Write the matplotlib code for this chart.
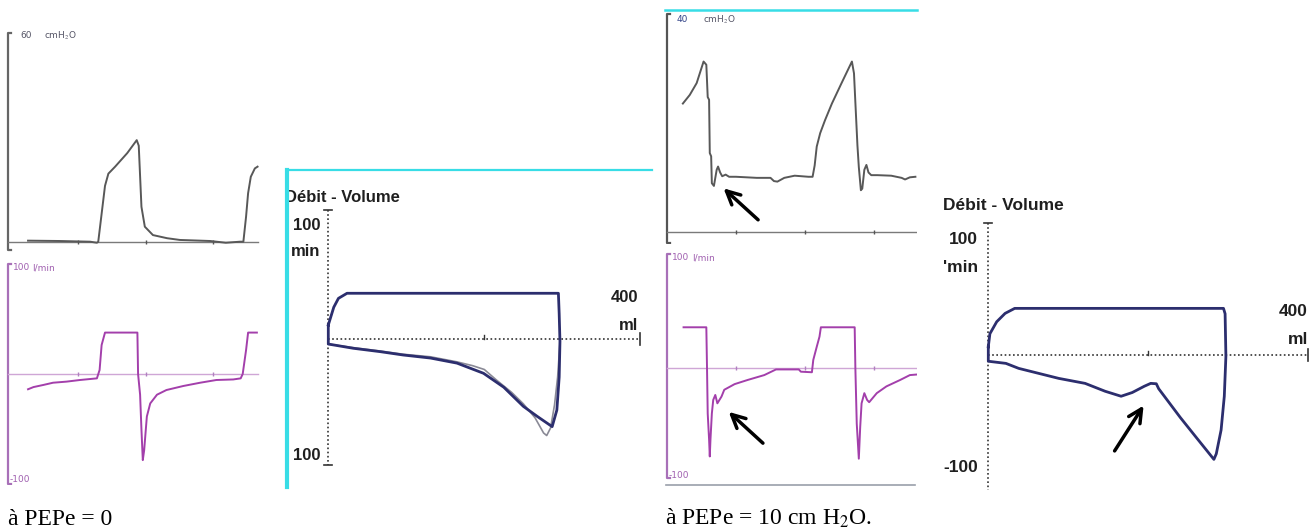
import numpy as np
import matplotlib
matplotlib.use('Agg')
import matplotlib.pyplot as plt

plt.rcParams['mathtext.fontset'] = 'stix'

W, H = 1315, 532

# --- PEPe = 0 : pression (cmH2O) en fonction du temps (s)
t_paw0 = [0.26, 0.73, 1.18, 1.28, 1.30, 1.35, 1.40, 1.45, 1.55, 1.73, 1.87, 1.90, 1.94,
          1.99, 2.11, 2.32, 2.51, 2.96, 3.19, 3.40, 3.45, 3.49, 3.52, 3.56, 3.62, 3.66]
paw0 = [0.3, 0.2, 0.0, -0.3, 0.0, 8.0, 16.0, 19.5, 21.5, 25.4, 29.1, 27.5, 10.0,
        4.3, 1.9, 1.0, 0.5, 0.2, -0.3, 0.0, 0.0, 7.2, 13.9, 18.6, 21.0, 21.5]

# --- PEPe = 0 : débit (l/min)
t_flow0 = [0.26, 0.34, 0.49, 0.63, 0.83, 1.03, 1.28, 1.32, 1.35, 1.40, 1.88, 1.89, 1.92,
           1.94, 1.96, 1.98, 2.02, 2.07, 2.17, 2.31, 2.56, 2.81, 3.05, 3.30, 3.41, 3.44,
           3.49, 3.52, 3.65]
flow0 = [-14, -12, -10, -8, -7, -5.5, -4, 3.7, 26.6, 38, 38, 0, -19,
         -51, -79, -70, -39, -27, -19, -14.7, -11, -8, -5.5, -5, -4, 0,
         22, 38, 38]

# --- PEPe = 0 : boucle débit-volume (ml, l/min)
vol_loop0 = [0, 7, 13, 24, 100, 200, 295, 296, 297, 296, 293, 287, 268, 250, 225, 199,
             165, 131, 96, 67, 32, 7, 0, 0]
flow_loop0 = [11, 25, 32, 36, 36, 36, 36, 20, -2, -30, -56, -69, -61, -53, -38, -27,
              -19, -15, -12.6, -10, -7.3, -4.7, -4, 11]
vol_loop0_b = [297, 294, 290, 285, 280, 276, 265, 250, 235, 215, 200, 185, 165, 131,
               96, 67, 32, 0]
flow_loop0_b = [-3, -30, -52, -70, -76, -74, -62, -51, -42, -32, -24, -21, -18, -14,
                -12, -9.5, -6.8, -4]

# --- PEPe = 10 : pression
t_paw10 = [0.23, 0.33, 0.43, 0.53, 0.57, 0.59, 0.61, 0.62, 0.64, 0.65, 0.68, 0.72, 0.74,
           0.77, 0.80, 0.85, 0.90, 1.00, 1.30, 1.50, 1.55, 1.60, 1.70, 1.85, 2.05, 2.11,
           2.14, 2.17, 2.22, 2.29, 2.39, 2.53, 2.68, 2.71, 2.73, 2.76, 2.78, 2.81, 2.83,
           2.86, 2.89, 2.92, 2.96, 3.05, 3.25, 3.40, 3.45, 3.52, 3.60]
paw10 = [23.8, 25.4, 27.6, 31.6, 31.0, 25.0, 24.5, 14.6, 14.0, 9.0, 8.5, 11.5, 12.1,
         11.0, 10.3, 10.6, 10.2, 10.2, 10.0, 10.0, 9.4, 9.3, 10.0, 10.4, 10.2, 10.2,
         12.3, 15.8, 18.3, 20.7, 23.8, 27.6, 31.6, 29.4, 24.0, 16.0, 12.0, 7.7, 8.0,
         11.5, 12.4, 11.0, 10.5, 10.5, 10.4, 10.0, 9.7, 10.1, 10.2]

# --- PEPe = 10 : débit
t_flow10 = [0.24, 0.57, 0.58, 0.59, 0.61, 0.62, 0.63, 0.65, 0.67, 0.70, 0.73, 0.79, 0.83,
            0.98, 1.17, 1.41, 1.58, 1.91, 1.94, 2.10, 2.12, 2.17, 2.21, 2.23, 2.72, 2.73,
            2.75, 2.78, 2.80, 2.82, 2.86, 2.90, 2.93, 3.04, 3.18, 3.38, 3.52, 3.62]
flow10 = [36.3, 36.3, 0, -40, -63, -78, -63, -40, -28, -23.6, -31, -25, -19,
          -14, -10.3, -6, -1, -1, -3, -3.5, 7.4, 19, 28, 36.3, 36.3, 0,
          -49, -80, -52, -31, -22, -28, -30, -22, -16, -10.3, -6, -5.5]

# --- PEPe = 10 : boucle débit-volume
vol_loop10 = [0, 2, 10.5, 21, 33, 294, 296, 297, 295, 291, 285, 282, 260, 240, 213, 210,
              203, 195, 180, 166, 146, 121, 88, 38, 22, 0, 0]
flow_loop10 = [6.6, 17, 26.6, 33.3, 37.3, 37.3, 33, -1, -33, -60, -79, -83.5, -66, -50,
               -27, -23, -22.7, -25, -30, -33, -29, -22.7, -18.7, -10.7, -6.7, -5, 6.6]

time_ticks = [1, 2, 3]

caption0 = 'à PEPe = 0'
caption10 = 'à PEPe = 10 cm H$_2$O.'

col_paw = '#585858'
col_flow = '#a33fab'
col_flow_lt = '#cfa6d6'
col_loop = '#2c2e6e'
col_cyan = '#38dde6'
col_txt = '#1f1f1f'


def add_panel(fig, ox, oy, sx, sy, xlim, ylim):
    # ox, oy: pixel position of data origin; sx, sy: pixels per data unit
    x0 = ox + sx * xlim[0]
    x1 = ox + sx * xlim[1]
    y_top = oy - sy * ylim[1]
    y_bot = oy - sy * ylim[0]
    ax = fig.add_axes([x0 / W, 1 - y_bot / H, (x1 - x0) / W, (y_bot - y_top) / H])
    ax.set_xlim(xlim)
    ax.set_ylim(ylim)
    ax.set_xticks([])
    ax.set_yticks([])
    for s in ax.spines.values():
        s.set_visible(False)
    ax.patch.set_alpha(0)
    return ax


def px_text(fig, x, y, s, **kw):
    return fig.text(x / W, 1 - y / H, s, **kw)


def bracket(ax, x, top, bottom, dx, color):
    ax.plot([x + dx, x, x, x + dx], [top, top, bottom, bottom], color=color, lw=1.6,
            solid_joinstyle='round')


def loop_label(fig, x, y, s, ha='right', size=12):
    px_text(fig, x, y, s, fontsize=size, family='Liberation Sans', fontweight='bold',
            color=col_txt, va='center', ha=ha)


fig = plt.figure(figsize=(W / 100, H / 100), dpi=100)

# ---------------- PEPe = 0, pression
ax = add_panel(fig, 10.5, 241.7, 67.5, 104.7 / 30, (-0.06, 3.75), (-3, 60.5))
bracket(ax, -0.037, 59.8, -2.4, 0.04, '#666666')
ax.plot([-0.037, 3.66], [0, 0], color='#7a7a7a', lw=1)
ax.plot(time_ticks, [0] * 3, '|', color='#555555', ms=3)
ax.plot(t_paw0, paw0, color=col_paw, lw=1.4)
px_text(fig, 20, 36, '60', fontsize=6.5, color='#555566', va='center')
px_text(fig, 44, 36, 'cmH$_2$O', fontsize=6.5, color='#555566', va='center')

# ---------------- PEPe = 0, débit
ax = add_panel(fig, 10.5, 374, 67.5, 1.09, (-0.06, 3.75), (-102, 103))
bracket(ax, -0.037, 101, -101, 0.04, '#a870b8')
ax.plot([-0.037, 3.66], [0, 0], color=col_flow_lt, lw=1)
ax.plot(time_ticks, [0] * 3, '|', color='#b080c0', ms=3)
ax.plot(t_flow0, flow0, color=col_flow, lw=1.4)
px_text(fig, 13, 268, '100', fontsize=6.5, color='#a060b0', va='center')
px_text(fig, 32, 268, 'l/min', fontsize=6.5, color='#a060b0', va='center')
px_text(fig, 10, 479, '-100', fontsize=6.5, color='#a060b0', va='center')

# ---------------- PEPe = 0, boucle
ax = add_panel(fig, 328.3, 339, 0.78, 1.27, (-53, 415), (-116.5, 133))
ax.spines['left'].set_visible(True)
ax.spines['left'].set_color(col_cyan)
ax.spines['left'].set_linewidth(3)
ax.spines['top'].set_visible(True)
ax.spines['top'].set_color(col_cyan)
ax.spines['top'].set_linewidth(1.6)
ax.plot([0, 0], [101.6, -99], color='#333333', lw=1.2, ls=(0, (1, 1.5)))
ax.plot([-5, 5], [101.6, 101.6], color='#333333', lw=1.2)
ax.plot([-5, 5], [-99, -99], color='#333333', lw=1.2)
ax.plot([0, 400], [0, 0], color='#333333', lw=1.2, ls=(0, (1, 1.5)))
ax.plot([400, 400], [-5, 5], color='#333333', lw=1.2)
ax.plot([200, 200], [0, 3], color='#333333', lw=1)
ax.plot(vol_loop0_b, flow_loop0_b, color='#8a8a96', lw=1.2)
ax.plot(vol_loop0, flow_loop0, color=col_loop, lw=2)
ax.text(285 / W, 1 - 197 / H, 'Débit - Volume', transform=fig.transFigure, fontsize=12,
        family='Liberation Sans', fontweight='bold', color=col_txt, va='center', zorder=2)
loop_label(fig, 320, 226, '100')
loop_label(fig, 320, 252, 'min')
loop_label(fig, 320, 456, '100')
loop_label(fig, 638, 298, '400')
loop_label(fig, 638, 325, 'ml')

# ---------------- PEPe = 10, pression
ax = add_panel(fig, 667, 231.7, 69, 107.7 / 20, (-0.03, 3.63), (-2.2, 41.2))
ax.spines['top'].set_visible(True)
ax.spines['top'].set_color(col_cyan)
ax.spines['top'].set_linewidth(1.8)
bracket(ax, 0, 40.4, -2.1, 0.04, '#555555')
ax.plot([0, 3.63], [0, 0], color='#7a7a7a', lw=1)
ax.plot(time_ticks, [0] * 3, '|', color='#555555', ms=3)
ax.plot(t_paw10, paw10, color=col_paw, lw=1.4)
ax.annotate('', xy=(0.79, 8.4), xytext=(1.35, 1.86),
            arrowprops=dict(arrowstyle='->', color='black', lw=2.5, mutation_scale=24))
px_text(fig, 677, 20, '40', fontsize=6.5, color='#334488', va='center')
px_text(fig, 703, 20, 'cmH$_2$O', fontsize=6.5, color='#555566', va='center')

# ---------------- PEPe = 10, débit
ax = add_panel(fig, 667, 368.3, 69, 1.13, (-0.03, 3.63), (-105, 103))
bracket(ax, 0, 101, -97, 0.04, '#a870b8')
ax.plot([0, 3.63], [0, 0], color=col_flow_lt, lw=1)
ax.plot([-0.02, 3.60], [-103.5, -103.5], color='#9aa0aa', lw=1.2)
ax.plot(time_ticks, [0] * 3, '|', color='#b080c0', ms=3)
ax.plot(t_flow10, flow10, color=col_flow, lw=1.4)
ax.annotate('', xy=(0.865, -36.9), xytext=(1.42, -67.9),
            arrowprops=dict(arrowstyle='->', color='black', lw=2.5, mutation_scale=24))
px_text(fig, 672, 258, '100', fontsize=6.5, color='#a060b0', va='center')
px_text(fig, 692, 258, 'l/min', fontsize=6.5, color='#a060b0', va='center')
px_text(fig, 669, 475, '-100', fontsize=6.5, color='#a060b0', va='center')

# ---------------- PEPe = 10, boucle
ax = add_panel(fig, 988.3, 355, 0.8, 1.25, (-57, 408), (-108, 128))
ax.plot([0, 0], [105.6, -108], color='#333333', lw=1.2, ls=(0, (1, 1.5)))
ax.plot([-5, 5], [105.6, 105.6], color='#333333', lw=1.2)
ax.plot([0, 400], [0, 0], color='#333333', lw=1.2, ls=(0, (1, 1.5)))
ax.plot([400, 400], [-5, 5], color='#333333', lw=1.2)
ax.plot([200, 200], [0, 3], color='#333333', lw=1)
ax.plot(vol_loop10, flow_loop10, color=col_loop, lw=2)
ax.annotate('', xy=(196, -38.6), xytext=(156, -78.6),
            arrowprops=dict(arrowstyle='->', color='black', lw=2.5, mutation_scale=24))
loop_label(fig, 943, 205, 'Débit - Volume', ha='left', size=12.5)
loop_label(fig, 978, 240, '100', size=12.5)
loop_label(fig, 978, 267, "'min", size=12.5)
loop_label(fig, 978, 468, '-100', size=12.5)
loop_label(fig, 1308, 312, '400', size=12.5)
loop_label(fig, 1308, 340, 'ml', size=12.5)

# ---------------- légendes
px_text(fig, 8, 525, caption0, fontsize=17, family='Liberation Serif', va='baseline')
px_text(fig, 665, 525, caption10, fontsize=17, family='Liberation Serif', va='baseline')

fig.savefig('out.png', dpi=100)
